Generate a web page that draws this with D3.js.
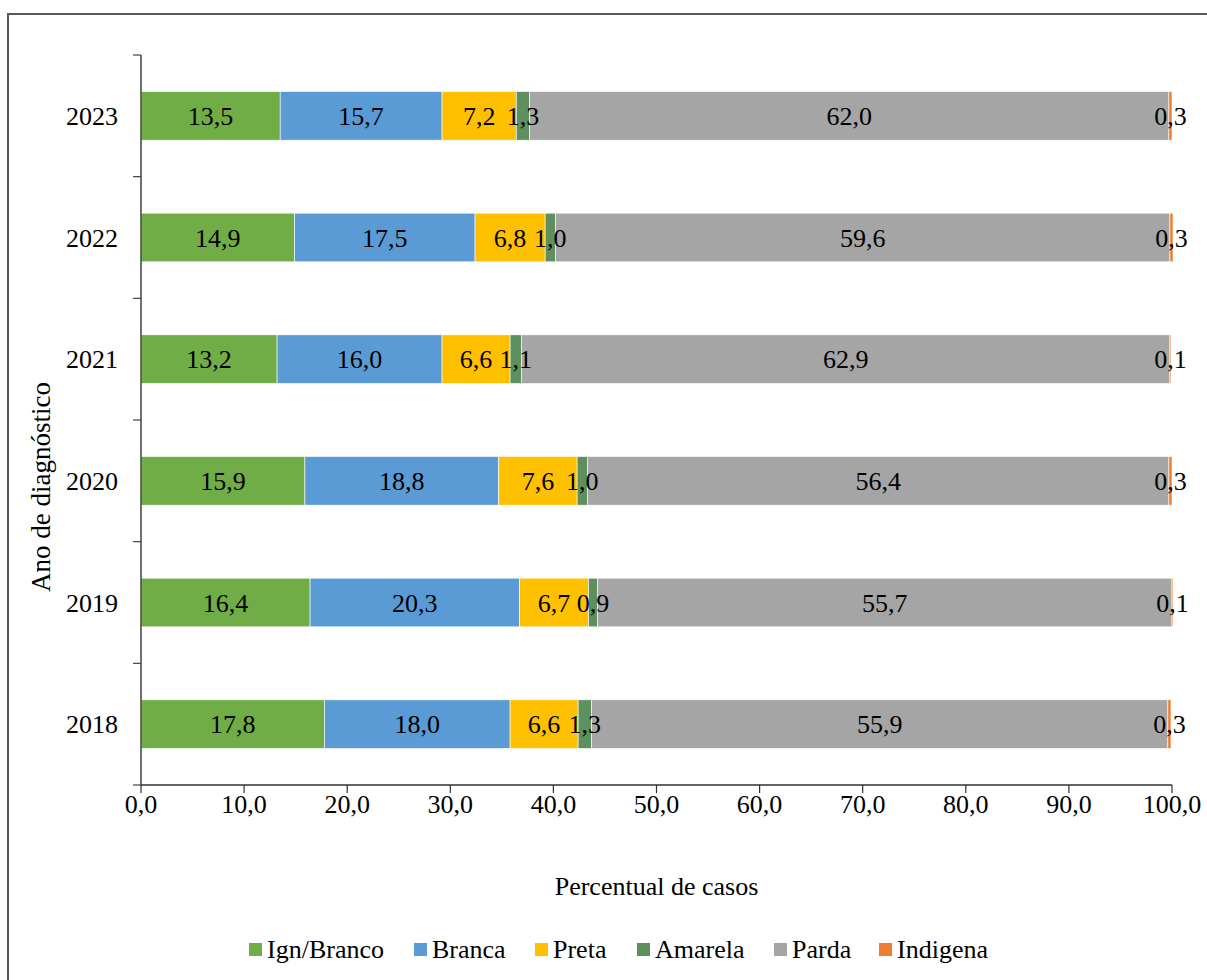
<!DOCTYPE html>
<html>
<head>
<meta charset="utf-8">
<script src="https://cdn.jsdelivr.net/npm/d3@7"></script>
<style>
  html, body { margin: 0; padding: 0; background: #fff; }
  svg { display: block; }
  text { font-family: "Liberation Serif", "Times New Roman", serif; fill: #000; }
</style>
</head>
<body>
<svg id="chart" width="1207" height="980"></svg>
<script>
// ---- data ----
const years = ["2023", "2022", "2021", "2020", "2019", "2018"];
const seriesNames = ["Ign/Branco", "Branca", "Preta", "Amarela", "Parda", "Indigena"];
const seriesColors = ["#70AD47", "#5B9BD5", "#FFC000", "#5E8F5E", "#A5A5A5", "#ED7D31"];
const ignBranco = [13.5, 14.9, 13.2, 15.9, 16.4, 17.8];
const branca    = [15.7, 17.5, 16.0, 18.8, 20.3, 18.0];
const preta     = [7.2, 6.8, 6.6, 7.6, 6.7, 6.6];
const amarela   = [1.3, 1.0, 1.1, 1.0, 0.9, 1.3];
const parda     = [62.0, 59.6, 62.9, 56.4, 55.7, 55.9];
const indigena  = [0.3, 0.3, 0.1, 0.3, 0.1, 0.3];
const xTicks = [0, 10, 20, 30, 40, 50, 60, 70, 80, 90, 100];
const xTitle = "Percentual de casos";
const yTitle = "Ano de diagnóstico";

const seriesValues = [ignBranco, branca, preta, amarela, parda, indigena];

(function () {
// ---- layout ----
const svg = d3.select("#chart");
const pL = 141, pR = 1172, pT = 55, pB = 785;
const fmt = v => d3.format(".1f")(v).replace(".", ",");
const FS = 26;

// outer frame
svg.append("rect").attr("x", 8).attr("y", 14).attr("width", 1300).attr("height", 1100)
  .attr("fill", "none").attr("stroke", "#595959").attr("stroke-width", 2);

const x = d3.scaleLinear().domain([0, 100]).range([pL, pR]);
const y = d3.scaleBand().domain(years).range([pT, pB]).paddingInner(0.6).paddingOuter(0.3);

// stacked data
const rows = years.map((yr, i) => {
  const o = { year: yr };
  seriesNames.forEach((s, j) => o[s] = seriesValues[j][i]);
  return o;
});
const stack = d3.stack().keys(seriesNames)(rows);

const g = svg.append("g");
stack.forEach((layer, j) => {
  g.selectAll(null).data(layer).enter().append("rect")
    .attr("x", d => x(d[0]))
    .attr("y", d => y(d.data.year))
    .attr("width", d => Math.max(0, x(d[1]) - x(d[0])))
    .attr("height", y.bandwidth())
    .attr("fill", seriesColors[j])
    .attr("stroke", "#ffffff").attr("stroke-width", 0.6);
});

// y axis line + ticks at band boundaries
const step = y.step();
const yStart = y.range()[0];
svg.append("line").attr("x1", pL).attr("x2", pL).attr("y1", pT).attr("y2", pB)
  .attr("stroke", "#404040").attr("stroke-width", 1.5);
for (let i = 0; i <= years.length; i++) {
  const yy = yStart + i * step;
  svg.append("line").attr("x1", pL - 8).attr("x2", pL).attr("y1", yy).attr("y2", yy)
    .attr("stroke", "#404040").attr("stroke-width", 1.2);
}
// year labels
svg.selectAll(null).data(years).enter().append("text")
  .attr("x", pL - 23).attr("y", d => y(d) + y.bandwidth() / 2 + 9)
  .attr("text-anchor", "end").attr("font-size", FS).text(d => d);

// x axis
svg.append("line").attr("x1", pL).attr("x2", pR).attr("y1", pB).attr("y2", pB)
  .attr("stroke", "#303030").attr("stroke-width", 1.5);
xTicks.forEach(t => {
  svg.append("line").attr("x1", x(t)).attr("x2", x(t)).attr("y1", pB).attr("y2", pB + 8)
    .attr("stroke", "#303030").attr("stroke-width", 1.2);
  svg.append("text").attr("x", x(t)).attr("y", pB + 28)
    .attr("text-anchor", "middle").attr("font-size", FS).text(fmt(t));
});

// segment labels
stack.forEach((layer, j) => {
  g.selectAll(null).data(layer).enter().append("text")
    .attr("x", d => x((d[0] + d[1]) / 2))
    .attr("y", d => y(d.data.year) + y.bandwidth() / 2 + 9)
    .attr("text-anchor", "middle").attr("font-size", FS)
    .text(d => fmt(d[1] - d[0]));
});

// axis titles
svg.append("text").attr("x", (pL + pR) / 2).attr("y", 895)
  .attr("text-anchor", "middle").attr("font-size", FS).text(xTitle);
svg.append("text").attr("transform", "translate(50,487) rotate(-90)")
  .attr("text-anchor", "middle").attr("font-size", 27).text(yTitle);

// legend
const legendX = [249, 414, 535, 637, 774, 879];
seriesNames.forEach((s, j) => {
  svg.append("rect").attr("x", legendX[j]).attr("y", 943).attr("width", 13).attr("height", 13)
    .attr("fill", seriesColors[j]);
  svg.append("text").attr("x", legendX[j] + 18).attr("y", 958)
    .attr("font-size", FS).text(s);
});
})();
</script>
</body>
</html>
